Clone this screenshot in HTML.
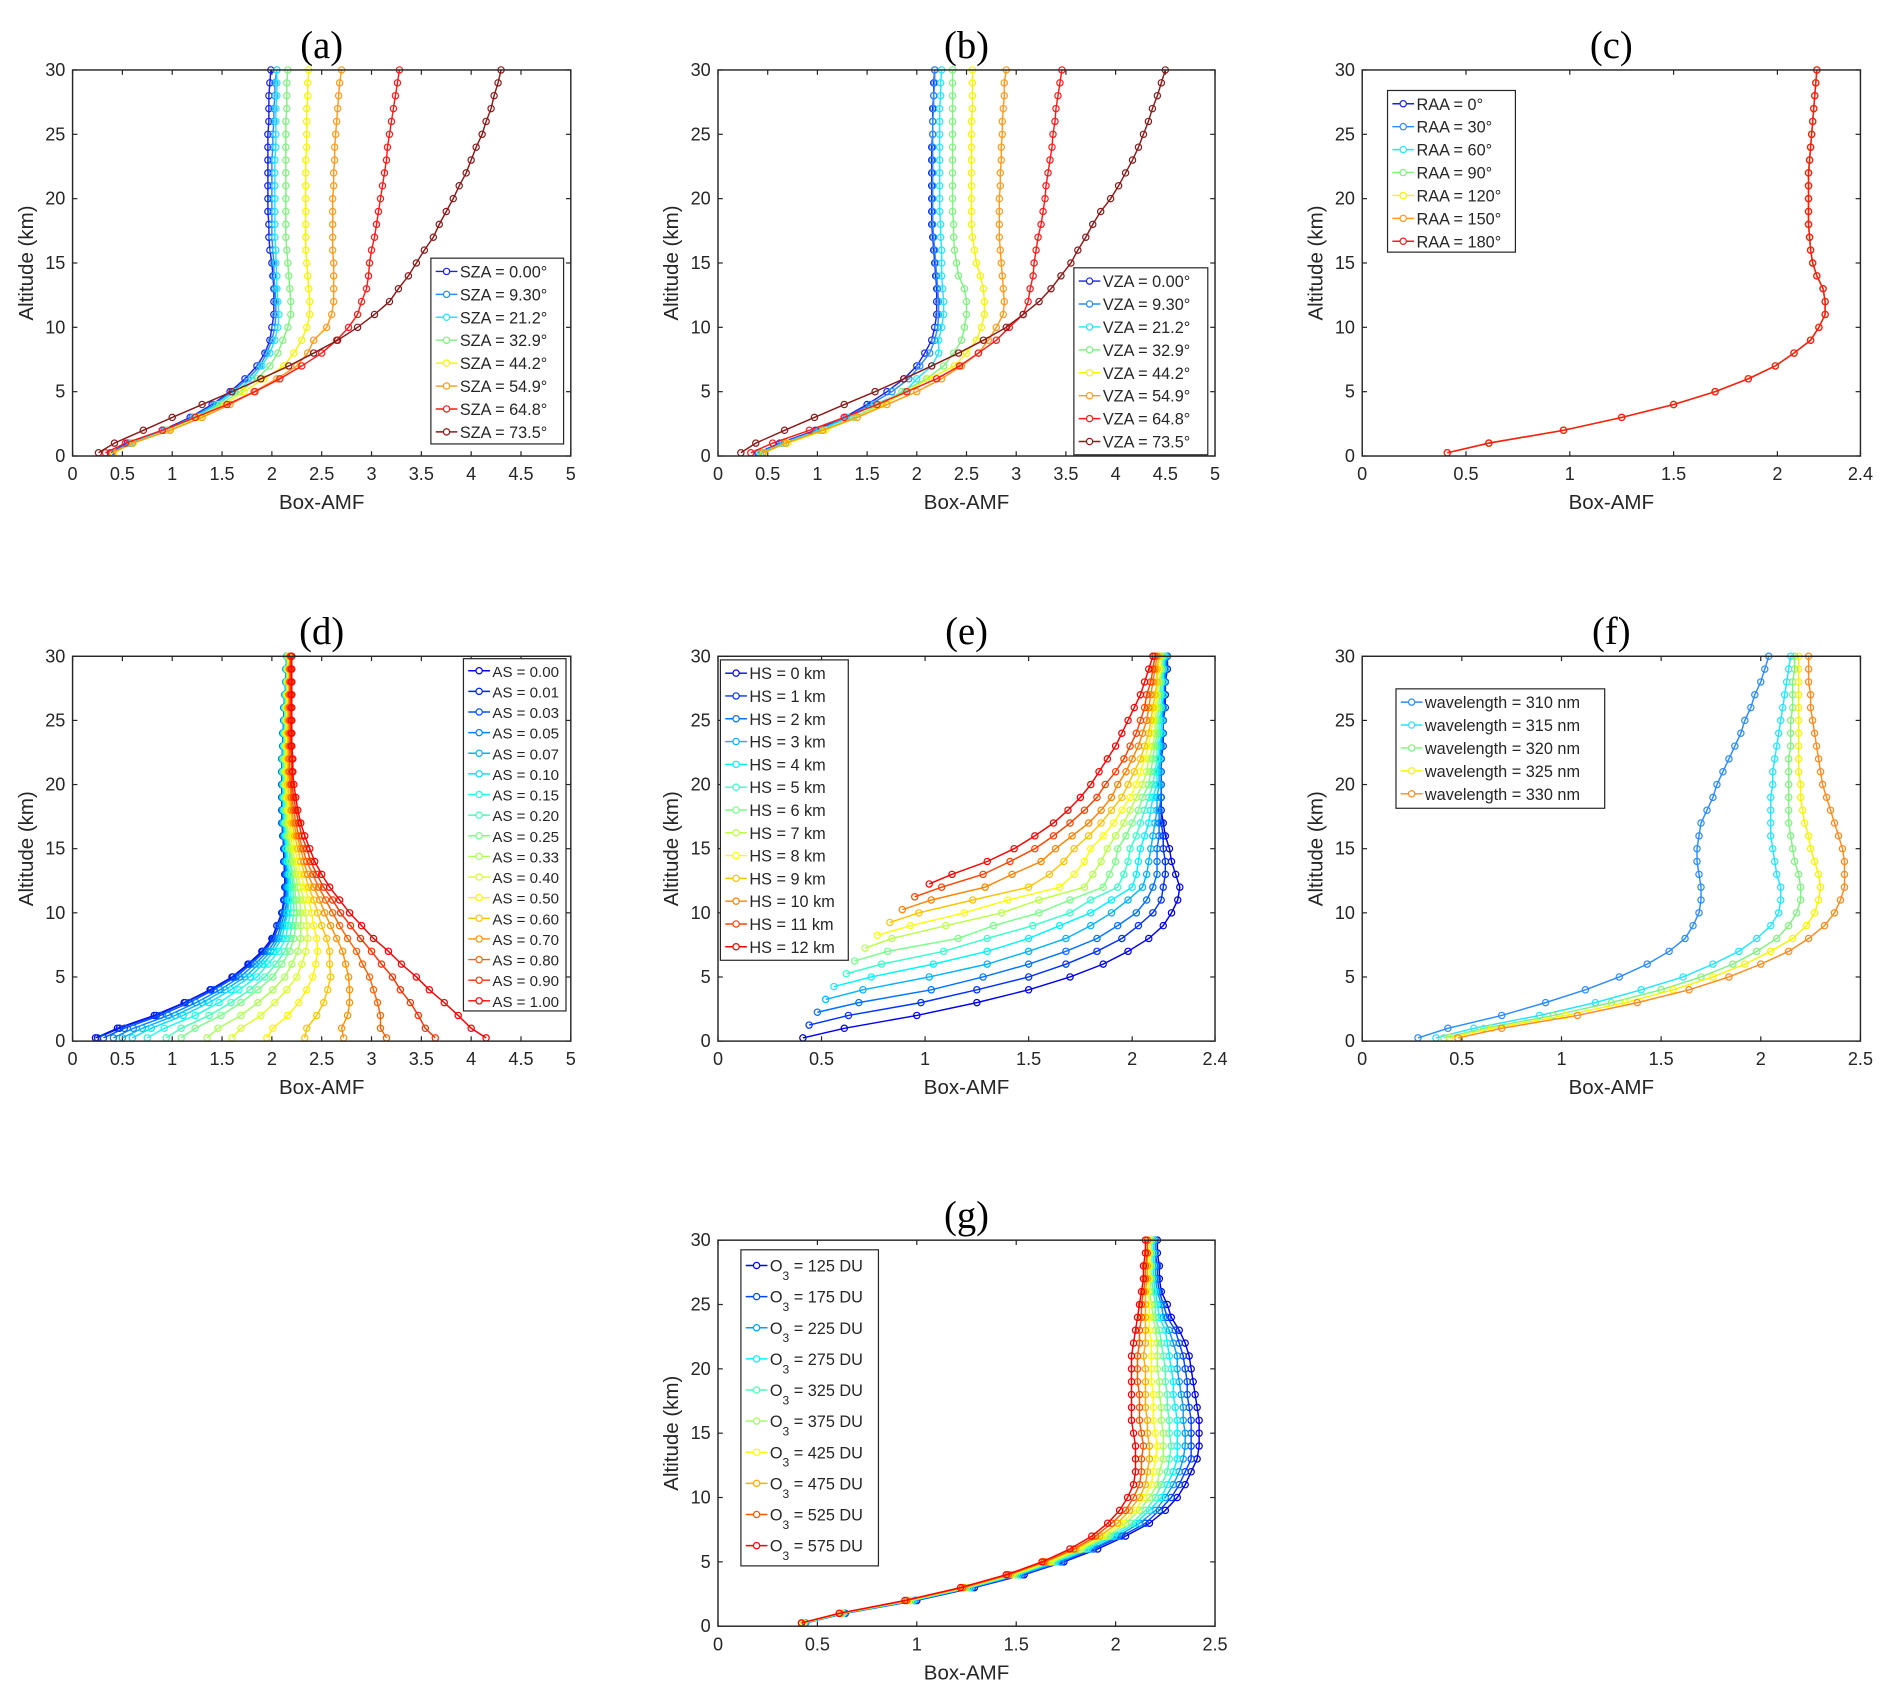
<!DOCTYPE html>
<html><head><meta charset="utf-8">
<style>
html,body{margin:0;padding:0;background:#fff;}
svg{display:block;}
text{font-family:"Liberation Sans",Arial,sans-serif;fill:#262626;}
.ttl{font-family:"Liberation Serif","Times New Roman",serif;fill:#000;}
</style></head>
<body>
<svg id="fig" width="1892" height="1701" viewBox="0 0 1568 1410" xmlns="http://www.w3.org/2000/svg"></svg>
<script>
// ---------- data ----------
const altStd = [0.25,1,2,3,4,5,6,7,8,9,10,11,12,13,14,15,16,17,18,19,20,21,22,23,24,25,26,27,28,29,30];
const yTicks = [0,5,10,15,20,25,30];
const xTicks5 = [0,0.5,1,1.5,2,2.5,3,3.5,4,4.5,5];
const xTicks24 = [0,0.5,1,1.5,2,2.4];
const xTicks25 = [0,0.5,1,1.5,2,2.5];

const szaLabels = ["SZA = 0.00°","SZA = 9.30°","SZA = 21.2°","SZA = 32.9°","SZA = 44.2°","SZA = 54.9°","SZA = 64.8°","SZA = 73.5°"];
const sza0 = [.38,.55,.9,1.18,1.4,1.58,1.73,1.85,1.93,1.98,2.0,2.02,2.02,2.02,2.01,2.0,1.98,1.97,1.97,1.96,1.96,1.96,1.96,1.96,1.96,1.96,1.97,1.97,1.97,1.98,1.99];
const sza93 = [.39,.57,.92,1.2,1.42,1.6,1.76,1.88,1.95,2.0,2.03,2.04,2.04,2.03,2.02,2.02,2.01,2.0,2.0,2.0,2.0,2.0,2.0,2.0,2.01,2.01,2.02,2.02,2.03,2.03,2.05];
const sza212 = [.4,.59,.94,1.22,1.45,1.63,1.8,1.9,1.98,2.03,2.06,2.07,2.06,2.05,2.05,2.04,2.04,2.03,2.03,2.03,2.03,2.03,2.03,2.03,2.04,2.04,2.04,2.04,2.05,2.05,2.05];
const sza329 = [.41,.6,.96,1.25,1.48,1.68,1.85,1.98,2.06,2.11,2.16,2.19,2.19,2.18,2.17,2.16,2.15,2.14,2.14,2.14,2.14,2.14,2.14,2.14,2.14,2.14,2.14,2.15,2.15,2.15,2.16];
const sza442 = [.41,.61,.97,1.28,1.52,1.72,1.92,2.12,2.22,2.3,2.35,2.38,2.38,2.37,2.36,2.35,2.34,2.34,2.34,2.34,2.34,2.34,2.34,2.34,2.35,2.35,2.35,2.35,2.36,2.36,2.37];
const sza549 = [.4,.6,.98,1.3,1.58,1.82,2.05,2.25,2.36,2.42,2.55,2.6,2.62,2.62,2.62,2.62,2.61,2.61,2.61,2.61,2.61,2.62,2.62,2.63,2.63,2.64,2.65,2.66,2.67,2.68,2.7];
const sza648 = [.33,.53,.9,1.23,1.55,1.83,2.08,2.3,2.5,2.65,2.77,2.86,2.9,2.95,2.97,2.98,3.0,3.03,3.05,3.07,3.09,3.11,3.13,3.15,3.16,3.18,3.2,3.22,3.24,3.26,3.28];
const sza735 = [.26,.42,.71,1.0,1.3,1.6,1.89,2.17,2.42,2.66,2.86,3.03,3.18,3.27,3.37,3.45,3.53,3.62,3.68,3.75,3.82,3.88,3.95,4.0,4.05,4.11,4.15,4.2,4.23,4.27,4.3];

const vzaLabels = ["VZA = 0.00°","VZA = 9.30°","VZA = 21.2°","VZA = 32.9°","VZA = 44.2°","VZA = 54.9°","VZA = 64.8°","VZA = 73.5°"];
const vza0 = [.4,.62,.98,1.27,1.5,1.7,1.87,2.0,2.08,2.15,2.18,2.2,2.2,2.2,2.19,2.18,2.17,2.16,2.15,2.15,2.15,2.15,2.15,2.15,2.15,2.16,2.16,2.16,2.17,2.17,2.18];
const vza93 = [.41,.64,1.0,1.29,1.53,1.75,1.92,2.03,2.13,2.18,2.21,2.22,2.22,2.21,2.2,2.19,2.18,2.17,2.16,2.16,2.16,2.16,2.16,2.16,2.16,2.16,2.16,2.17,2.17,2.18,2.18];
const vza212 = [.43,.66,1.02,1.32,1.57,1.88,2.0,2.15,2.22,2.22,2.25,2.27,2.27,2.26,2.25,2.25,2.25,2.24,2.24,2.23,2.23,2.23,2.23,2.23,2.23,2.23,2.23,2.23,2.24,2.24,2.25];
const vza329 = [.45,.68,1.06,1.37,1.62,1.85,2.1,2.27,2.37,2.45,2.48,2.5,2.5,2.48,2.42,2.4,2.38,2.37,2.37,2.36,2.36,2.36,2.36,2.36,2.36,2.36,2.36,2.36,2.36,2.36,2.36];
const vza442 = [.46,.7,1.08,1.4,1.66,1.9,2.12,2.38,2.5,2.6,2.65,2.68,2.68,2.67,2.64,2.6,2.58,2.56,2.55,2.55,2.55,2.55,2.55,2.55,2.55,2.55,2.55,2.56,2.56,2.56,2.56];
const vza549 = [.45,.68,1.05,1.4,1.7,2.0,2.25,2.45,2.62,2.72,2.8,2.87,2.88,2.87,2.86,2.85,2.84,2.83,2.83,2.83,2.83,2.84,2.84,2.85,2.85,2.86,2.86,2.87,2.88,2.88,2.9];
const vza648 = [.33,.55,.92,1.27,1.6,1.9,2.2,2.43,2.62,2.8,2.93,3.07,3.12,3.14,3.17,3.18,3.2,3.22,3.25,3.27,3.29,3.3,3.32,3.34,3.36,3.37,3.39,3.4,3.42,3.44,3.46];
const vza735 = [.23,.38,.67,.97,1.27,1.58,1.87,2.15,2.42,2.67,2.9,3.07,3.23,3.35,3.45,3.55,3.62,3.7,3.77,3.85,3.95,4.03,4.1,4.17,4.23,4.28,4.33,4.37,4.42,4.46,4.5];

const raaLabels = ["RAA = 0°","RAA = 30°","RAA = 60°","RAA = 90°","RAA = 120°","RAA = 150°","RAA = 180°"];
const raaProfile = [.41,.61,.97,1.25,1.5,1.7,1.86,1.99,2.08,2.16,2.2,2.23,2.23,2.22,2.19,2.17,2.16,2.155,2.15,2.15,2.15,2.15,2.15,2.155,2.16,2.165,2.17,2.175,2.18,2.185,2.19];

const asLabels = ["AS = 0.00","AS = 0.01","AS = 0.03","AS = 0.05","AS = 0.07","AS = 0.10","AS = 0.15","AS = 0.20","AS = 0.25","AS = 0.33","AS = 0.40","AS = 0.50","AS = 0.60","AS = 0.70","AS = 0.80","AS = 0.90","AS = 1.00"];
const as000 = [.23,.45,.82,1.12,1.38,1.6,1.76,1.9,2.0,2.05,2.1,2.12,2.13,2.13,2.12,2.12,2.11,2.1,2.1,2.1,2.1,2.1,2.1,2.11,2.11,2.12,2.12,2.13,2.14,2.14,2.15];
const as001 = [.25,.47,.84,1.13,1.39,1.61,1.77,1.91,2.01,2.05,2.1,2.12,2.13,2.13,2.12,2.12,2.11,2.1,2.1,2.1,2.1,2.1,2.1,2.11,2.11,2.12,2.12,2.13,2.14,2.14,2.15];
const as003 = [.31,.52,.88,1.17,1.42,1.64,1.79,1.93,2.02,2.07,2.11,2.13,2.14,2.14,2.13,2.13,2.11,2.1,2.1,2.1,2.1,2.1,2.1,2.11,2.11,2.12,2.12,2.13,2.14,2.14,2.15];
const as005 = [.41,.61,.96,1.24,1.48,1.68,1.83,1.96,2.05,2.09,2.13,2.15,2.15,2.15,2.13,2.13,2.12,2.11,2.11,2.11,2.11,2.1,2.1,2.11,2.11,2.12,2.12,2.13,2.14,2.14,2.15];
const as007 = [.5,.7,1.03,1.3,1.53,1.73,1.87,1.99,2.07,2.11,2.15,2.16,2.16,2.16,2.14,2.14,2.13,2.11,2.11,2.11,2.11,2.11,2.11,2.12,2.12,2.13,2.13,2.13,2.14,2.14,2.15];
const as010 = [.6,.79,1.11,1.37,1.59,1.78,1.91,2.02,2.1,2.13,2.16,2.17,2.17,2.17,2.15,2.14,2.13,2.12,2.12,2.11,2.11,2.11,2.11,2.12,2.12,2.13,2.13,2.14,2.15,2.15,2.15];
const as015 = [.75,.92,1.23,1.47,1.67,1.85,1.96,2.07,2.14,2.16,2.19,2.19,2.19,2.18,2.16,2.15,2.14,2.13,2.12,2.12,2.12,2.11,2.11,2.12,2.12,2.13,2.13,2.14,2.15,2.15,2.16];
const as020 = [.94,1.09,1.37,1.59,1.78,1.93,2.04,2.13,2.18,2.2,2.22,2.22,2.21,2.2,2.18,2.17,2.15,2.13,2.13,2.13,2.12,2.12,2.12,2.13,2.13,2.13,2.13,2.14,2.15,2.15,2.16];
const as025 = [1.09,1.23,1.49,1.69,1.86,2.01,2.1,2.18,2.22,2.24,2.25,2.24,2.23,2.21,2.19,2.18,2.16,2.14,2.14,2.13,2.13,2.12,2.12,2.13,2.13,2.14,2.14,2.15,2.15,2.15,2.16];
const as033 = [1.35,1.46,1.69,1.86,2.01,2.13,2.2,2.26,2.29,2.29,2.29,2.28,2.26,2.24,2.21,2.19,2.17,2.15,2.15,2.14,2.13,2.13,2.13,2.14,2.14,2.14,2.14,2.15,2.16,2.16,2.16];
const as040 = [1.6,1.69,1.89,2.03,2.15,2.25,2.3,2.34,2.36,2.35,2.34,2.32,2.29,2.26,2.23,2.21,2.19,2.17,2.16,2.15,2.14,2.14,2.14,2.14,2.14,2.15,2.15,2.15,2.16,2.16,2.17];
const as050 = [1.95,2.01,2.16,2.27,2.35,2.41,2.44,2.46,2.45,2.42,2.4,2.37,2.33,2.29,2.26,2.23,2.21,2.18,2.17,2.16,2.15,2.15,2.15,2.15,2.15,2.16,2.16,2.16,2.17,2.17,2.17];
const as060 = [2.33,2.35,2.45,2.52,2.56,2.59,2.58,2.58,2.55,2.5,2.46,2.42,2.37,2.33,2.29,2.26,2.23,2.2,2.19,2.17,2.16,2.16,2.16,2.16,2.16,2.16,2.16,2.17,2.17,2.17,2.18];
const as070 = [2.72,2.7,2.76,2.78,2.78,2.77,2.74,2.71,2.65,2.59,2.53,2.48,2.42,2.36,2.32,2.29,2.25,2.22,2.2,2.19,2.18,2.17,2.17,2.17,2.17,2.17,2.17,2.17,2.18,2.18,2.18];
const as080 = [3.15,3.09,3.09,3.06,3.02,2.98,2.91,2.85,2.76,2.68,2.61,2.54,2.47,2.41,2.35,2.31,2.27,2.24,2.22,2.2,2.19,2.18,2.18,2.18,2.18,2.18,2.18,2.18,2.18,2.18,2.19];
const as090 = [3.64,3.54,3.47,3.39,3.29,3.21,3.1,3.0,2.89,2.79,2.69,2.61,2.52,2.45,2.39,2.35,2.3,2.27,2.24,2.22,2.2,2.2,2.2,2.19,2.19,2.19,2.19,2.19,2.19,2.19,2.19];
const as100 = [4.15,4.0,3.87,3.73,3.58,3.45,3.3,3.17,3.02,2.9,2.78,2.68,2.58,2.5,2.43,2.38,2.33,2.29,2.26,2.24,2.22,2.21,2.21,2.2,2.2,2.2,2.2,2.2,2.2,2.2,2.2];

const hsLabels = ["HS = 0 km","HS = 1 km","HS = 2 km","HS = 3 km","HS = 4 km","HS = 5 km","HS = 6 km","HS = 7 km","HS = 8 km","HS = 9 km","HS = 10 km","HS = 11 km","HS = 12 km"];
const hsStart = [0.25,1.25,2.25,3.25,4.25,5.25,6.25,7.25,8.25,9.25,10.25,11.25,12.25];
const hs0 = [.41,.61,.96,1.25,1.5,1.7,1.86,1.98,2.08,2.15,2.19,2.22,2.23,2.21,2.19,2.18,2.16,2.15,2.14,2.14,2.14,2.14,2.14,2.14,2.15,2.15,2.15,2.16,2.16,2.17,2.17];
const hs1 = [.44,.63,.98,1.25,1.5,1.68,1.83,1.95,2.03,2.1,2.14,2.15,2.16,2.16,2.15,2.15,2.14,2.14,2.14,2.14,2.14,2.14,2.15,2.15,2.15,2.16,2.16,2.16,2.17,2.17];
const hs2 = [.48,.68,1.03,1.28,1.5,1.68,1.83,1.93,2.02,2.07,2.1,2.12,2.12,2.12,2.13,2.13,2.13,2.14,2.14,2.14,2.14,2.14,2.15,2.15,2.15,2.15,2.16,2.16,2.17];
const hs3 = [.52,.7,1.02,1.3,1.5,1.68,1.8,1.9,1.98,2.05,2.07,2.08,2.09,2.1,2.11,2.12,2.12,2.13,2.13,2.13,2.14,2.14,2.14,2.15,2.15,2.15,2.16,2.16];
const hs4 = [.56,.74,1.04,1.3,1.5,1.65,1.8,1.9,2.0,2.02,2.03,2.04,2.06,2.08,2.09,2.1,2.12,2.12,2.13,2.13,2.14,2.14,2.14,2.15,2.15,2.15,2.16];
const hs5 = [.62,.79,1.09,1.3,1.52,1.7,1.8,1.93,1.96,1.98,1.99,2.02,2.04,2.06,2.08,2.1,2.11,2.12,2.12,2.13,2.13,2.14,2.14,2.14,2.15,2.15];
const hs6 = [.66,.82,1.16,1.33,1.55,1.7,1.86,1.89,1.92,1.93,1.97,2.0,2.03,2.05,2.08,2.09,2.1,2.11,2.12,2.12,2.13,2.13,2.14,2.14,2.15];
const hs7 = [.71,.84,1.1,1.37,1.55,1.77,1.81,1.85,1.88,1.92,1.96,1.99,2.02,2.05,2.07,2.08,2.1,2.11,2.11,2.12,2.12,2.13,2.14,2.14];
const hs8 = [.77,.93,1.19,1.4,1.65,1.72,1.77,1.8,1.86,1.91,1.95,1.99,2.02,2.04,2.06,2.08,2.09,2.1,2.11,2.12,2.12,2.13,2.13];
const hs9 = [.83,.97,1.23,1.5,1.6,1.67,1.72,1.79,1.85,1.9,1.95,1.98,2.01,2.04,2.06,2.08,2.09,2.1,2.11,2.12,2.12,2.13];
const hs10 = [.89,1.03,1.29,1.42,1.56,1.63,1.71,1.79,1.85,1.9,1.93,1.97,2.0,2.03,2.05,2.07,2.08,2.09,2.1,2.11,2.12];
const hs11 = [.95,1.08,1.28,1.41,1.53,1.62,1.7,1.77,1.83,1.87,1.92,1.96,1.99,2.02,2.04,2.06,2.07,2.09,2.1,2.11];
const hs12 = [1.02,1.13,1.3,1.43,1.53,1.62,1.69,1.75,1.8,1.84,1.88,1.92,1.95,1.98,2.01,2.04,2.06,2.08,2.1];

const wlLabels = ["wavelength = 310 nm","wavelength = 315 nm","wavelength = 320 nm","wavelength = 325 nm","wavelength = 330 nm"];
const wl310 = [.28,.43,.7,.92,1.12,1.29,1.43,1.54,1.62,1.66,1.69,1.7,1.7,1.69,1.68,1.68,1.69,1.7,1.73,1.76,1.78,1.81,1.84,1.87,1.9,1.92,1.95,1.97,2.0,2.02,2.04];
const wl315 = [.37,.56,.89,1.17,1.4,1.61,1.76,1.89,1.98,2.05,2.09,2.1,2.1,2.08,2.07,2.06,2.05,2.05,2.05,2.05,2.06,2.06,2.07,2.08,2.09,2.1,2.11,2.12,2.13,2.14,2.15];
const wl320 = [.41,.61,.96,1.25,1.5,1.7,1.86,1.98,2.08,2.14,2.18,2.2,2.2,2.19,2.17,2.16,2.15,2.14,2.14,2.14,2.14,2.14,2.14,2.15,2.15,2.15,2.16,2.16,2.16,2.17,2.17];
const wl325 = [.44,.65,1.02,1.32,1.56,1.76,1.92,2.05,2.16,2.23,2.27,2.29,2.3,2.29,2.27,2.25,2.24,2.22,2.21,2.2,2.2,2.19,2.19,2.19,2.19,2.19,2.19,2.19,2.19,2.19,2.19];
const wl330 = [.48,.7,1.08,1.38,1.64,1.84,2.0,2.14,2.24,2.32,2.37,2.4,2.42,2.42,2.42,2.41,2.39,2.37,2.35,2.33,2.31,2.3,2.29,2.28,2.27,2.26,2.25,2.25,2.24,2.24,2.24];

const o3Values = ["125","175","225","275","325","375","425","475","525","575"];
const o3_125 = [.44,.64,1.0,1.29,1.54,1.74,1.91,2.05,2.17,2.25,2.31,2.35,2.38,2.41,2.42,2.42,2.42,2.41,2.4,2.39,2.38,2.37,2.35,2.32,2.28,2.26,2.23,2.22,2.22,2.21,2.21];
const o3_175 = [.44,.64,.99,1.28,1.53,1.73,1.89,2.03,2.15,2.22,2.28,2.32,2.35,2.38,2.38,2.38,2.38,2.37,2.36,2.36,2.35,2.34,2.32,2.3,2.26,2.24,2.22,2.21,2.21,2.2,2.2];
const o3_225 = [.44,.63,.99,1.27,1.52,1.72,1.88,2.01,2.12,2.2,2.25,2.29,2.32,2.34,2.35,2.35,2.34,2.34,2.33,2.32,2.31,2.31,2.29,2.27,2.24,2.23,2.21,2.2,2.2,2.2,2.2];
const o3_275 = [.43,.63,.98,1.27,1.51,1.7,1.86,1.99,2.1,2.17,2.23,2.26,2.29,2.31,2.31,2.31,2.31,2.3,2.29,2.29,2.28,2.27,2.26,2.25,2.22,2.21,2.2,2.19,2.19,2.19,2.19];
const o3_325 = [.43,.63,.97,1.26,1.5,1.69,1.85,1.97,2.08,2.15,2.2,2.23,2.26,2.27,2.28,2.27,2.27,2.26,2.26,2.25,2.25,2.24,2.23,2.22,2.2,2.2,2.19,2.18,2.18,2.18,2.18];
const o3_375 = [.43,.62,.97,1.25,1.49,1.68,1.83,1.96,2.05,2.12,2.17,2.21,2.22,2.24,2.24,2.24,2.23,2.23,2.22,2.22,2.21,2.21,2.21,2.2,2.19,2.18,2.17,2.18,2.18,2.18,2.18];
const o3_425 = [.43,.62,.96,1.24,1.48,1.67,1.82,1.94,2.03,2.1,2.14,2.18,2.19,2.2,2.21,2.2,2.19,2.19,2.19,2.18,2.18,2.18,2.18,2.17,2.17,2.17,2.16,2.17,2.17,2.17,2.17];
const o3_475 = [.42,.62,.95,1.24,1.47,1.65,1.8,1.92,2.01,2.07,2.12,2.15,2.16,2.17,2.17,2.16,2.16,2.15,2.15,2.15,2.15,2.14,2.15,2.15,2.15,2.15,2.15,2.16,2.16,2.16,2.16];
const o3_525 = [.42,.61,.95,1.23,1.46,1.64,1.79,1.9,1.98,2.05,2.09,2.12,2.13,2.13,2.14,2.13,2.12,2.12,2.12,2.11,2.11,2.11,2.12,2.12,2.13,2.13,2.14,2.15,2.15,2.16,2.16];
const o3_575 = [.42,.61,.94,1.22,1.45,1.63,1.77,1.88,1.96,2.02,2.06,2.09,2.1,2.1,2.1,2.09,2.08,2.08,2.08,2.08,2.08,2.08,2.09,2.1,2.11,2.12,2.13,2.14,2.14,2.15,2.15];

// ---------- drawing ----------
const NS = "http://www.w3.org/2000/svg";
const svg = document.getElementById("fig");
function mk(tag, attrs, parent){
  const e = document.createElementNS(NS, tag);
  for (const k in attrs) e.setAttribute(k, attrs[k]);
  (parent||svg).appendChild(e);
  return e;
}
function jet(t){
  const r = Math.max(0,Math.min(1,1.5-Math.abs(4*t-3)));
  const g = Math.max(0,Math.min(1,1.5-Math.abs(4*t-2)));
  const b = Math.max(0,Math.min(1,1.5-Math.abs(4*t-1)));
  return "rgb("+Math.round(r*255)+","+Math.round(g*255)+","+Math.round(b*255)+")";
}
const col8 = ["#1a22ee","#2a8cff","#22e6ff","#7ff27f","#f5f500","#ff9a1a","#ff1a1a","#8b1a1a"];
const col7 = ["#1a22ee","#2a8cff","#22e6ff","#7ff27f","#f5f500","#ff9a1a","#ff1a1a"];
const colF = ["#2a8cff","#22e6ff","#7ff27f","#f5f500","#ff8a1a"];
function jetList(n){ const a=[]; for(let i=0;i<n;i++) a.push(jet(0.11+0.765*i/(n-1))); return a; }

function panel(p){
  const g = mk("g",{});
  
  
  const L=p.x0, R=p.x1, T=p.y0, B=p.y1;
  const sx = v => L + (v - p.xmin)/(p.xmax - p.xmin)*(R-L);
  const sy = v => B - v/30*(B-T);
  const title = mk("text",{x:(L+R)/2,y:T-10,"text-anchor":"middle","font-size":32,class:"ttl"},g);
  title.textContent = "("+p.id+")";
  
  
  const ax = mk("g",{},g);
  
  
  p.xticks.forEach(t=>{
    const X = sx(t);
    mk("line",{x1:X,y1:B,x2:X,y2:B-4,stroke:"#262626","stroke-width":1},ax);
    mk("line",{x1:X,y1:T,x2:X,y2:T+4,stroke:"#262626","stroke-width":1},ax);
    const tx = mk("text",{x:X,y:B+20,"text-anchor":"middle","font-size":15},ax);
    tx.textContent = String(t);
    
    
  });
  const xt = mk("text",{x:(L+R)/2,y:B+44,"text-anchor":"middle","font-size":17},ax);
  xt.textContent = "Box-AMF";
  
  
  const ay = mk("g",{},g);
  
  
  yTicks.forEach(t=>{
    const Y = sy(t);
    mk("line",{x1:L,y1:Y,x2:L+4,y2:Y,stroke:"#262626","stroke-width":1},ay);
    mk("line",{x1:R,y1:Y,x2:R-4,y2:Y,stroke:"#262626","stroke-width":1},ay);
    const ty = mk("text",{x:L-6,y:Y+5,"text-anchor":"end","font-size":15},ay);
    ty.textContent = String(t);
    
    
  });
  const yt = mk("text",{x:0,y:0,"text-anchor":"middle","font-size":17,transform:"translate("+(L-33)+","+((T+B)/2)+") rotate(-90)"},ay);
  yt.textContent = "Altitude (km)";
  
  
  const sg = mk("g",{},g);
  
  
  p.series.forEach((s,i)=>{
    const alts = p.alts ? p.alts(i, s.length) : altStd;
    const sgi = mk("g",{},sg);
    
    
    let d = "";
    s.forEach((v,j)=>{ d += (j?"L":"M")+sx(v).toFixed(2)+" "+sy(alts[j]).toFixed(2); });
    mk("path",{d:d,fill:"none",stroke:p.colors[i],"stroke-width":1.2},sgi);
    s.forEach((v,j)=>{
      const c = mk("circle",{cx:sx(v),cy:sy(alts[j]),r:2.6,fill:"none",stroke:p.colors[i],"stroke-width":1},sgi);
      
      
    });
  });
  mk("rect",{x:L,y:T,width:R-L,height:B-T,fill:"none",stroke:"#262626","stroke-width":1.2},g);
  const lg = mk("g",{},g);
  
  
  const lb = p.legend;
  mk("rect",{x:lb.x,y:lb.y,width:lb.w,height:lb.h,fill:"#fff",stroke:"#262626","stroke-width":1},lg);
  p.labels.forEach((lab,i)=>{
    const cy = lb.y + lb.first + i*lb.step;
    const e = mk("g",{},lg);
    
    
    mk("line",{x1:lb.x+4,y1:cy,x2:lb.x+22,y2:cy,stroke:p.colors[i],"stroke-width":1.2},e);
    mk("circle",{cx:lb.x+13,cy:cy,r:2.6,fill:"#fff",stroke:p.colors[i],"stroke-width":1},e);
    const t = mk("text",{x:lb.x+24,y:cy+5,"font-size":lb.fs||13.5,fill:"#000"},e);
    if (p.o3) {
      t.appendChild(document.createTextNode("O"));
      const sub = mk("tspan",{dy:7,"font-size":10},t); sub.textContent="3";
      const rest = mk("tspan",{dy:-7},t); rest.textContent=" = "+lab+" DU";
    } else t.textContent = lab;
  });
}

panel({id:"a",x0:60,x1:473,y0:58,y1:378,xmin:0,xmax:5,xticks:xTicks5,
  series:[sza0,sza93,sza212,sza329,sza442,sza549,sza648,sza735],colors:col8,labels:szaLabels,
  legend:{x:357,y:214,w:110,h:154,first:11,step:19}});
panel({id:"b",x0:595,x1:1007,y0:58,y1:378,xmin:0,xmax:5,xticks:xTicks5,
  series:[vza0,vza93,vza212,vza329,vza442,vza549,vza648,vza735],colors:col8,labels:vzaLabels,
  legend:{x:890,y:222,w:111,h:155,first:11,step:19}});
panel({id:"c",x0:1129,x1:1542,y0:58,y1:378,xmin:0,xmax:2.4,xticks:xTicks24,
  series:[raaProfile,raaProfile,raaProfile,raaProfile,raaProfile,raaProfile,raaProfile],colors:col7,labels:raaLabels,
  legend:{x:1150,y:75,w:106,h:134,first:11,step:19}});
panel({id:"d",x0:60,x1:473,y0:544,y1:863,xmin:0,xmax:5,xticks:xTicks5,
  series:[as000,as001,as003,as005,as007,as010,as015,as020,as025,as033,as040,as050,as060,as070,as080,as090,as100],
  colors:jetList(17),labels:asLabels,legend:{x:384,y:546,w:85,h:292,first:10,step:17.1,fs:12.5}});
panel({id:"e",x0:595,x1:1007,y0:544,y1:863,xmin:0,xmax:2.4,xticks:xTicks24,
  series:[hs0,hs1,hs2,hs3,hs4,hs5,hs6,hs7,hs8,hs9,hs10,hs11,hs12],colors:jetList(13),labels:hsLabels,
  alts:(i,n)=>{const a=[hsStart[i]]; for(let j=1;j<n;j++) a.push(Math.floor(hsStart[i])+j); return a;},
  legend:{x:597,y:547,w:106,h:249,first:11,step:18.9}});
panel({id:"f",x0:1129,x1:1542,y0:544,y1:863,xmin:0,xmax:2.5,xticks:xTicks25,
  series:[wl310,wl315,wl320,wl325,wl330],colors:colF,labels:wlLabels,
  legend:{x:1157,y:571,w:173,h:99,first:11,step:19}});
panel({id:"g",x0:595,x1:1007,y0:1028,y1:1348,xmin:0,xmax:2.5,xticks:xTicks25,o3:true,
  series:[o3_125,o3_175,o3_225,o3_275,o3_325,o3_375,o3_425,o3_475,o3_525,o3_575],colors:jetList(10),labels:o3Values,
  legend:{x:614,y:1036,w:114,h:262,first:13,step:25.8}});
</script>
</body></html>
